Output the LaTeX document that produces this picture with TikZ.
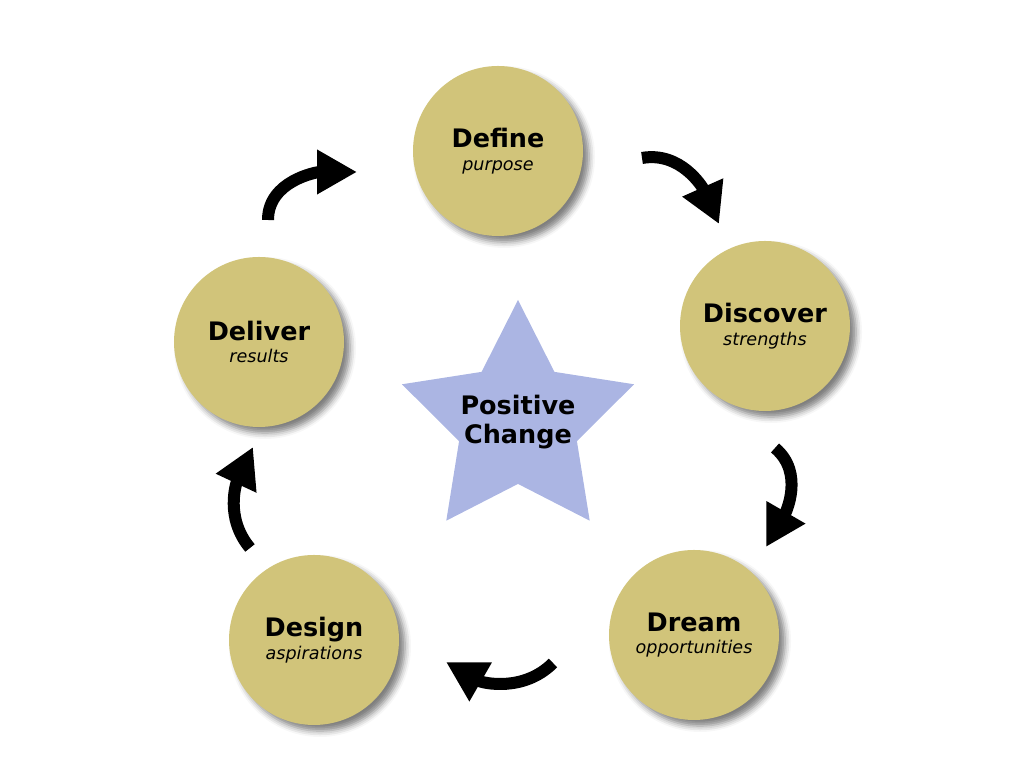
\documentclass[tikz,border=0pt]{standalone}
\usepackage{fontspec}
\setmainfont{DejaVu Sans}
\usetikzlibrary{arrows.meta,shapes.geometric,shadows.blur}
\definecolor{stagegold}{RGB}{209,196,122}
\definecolor{starblue}{RGB}{171,181,227}
\begin{document}
\begin{tikzpicture}[x=0.2mm, y=0.2mm,
	stage/.style={circle, fill=stagegold, minimum size=3.4cm, inner sep=0pt, align=center,
		font=\fontsize{10}{13}\selectfont\itshape,
		blur shadow={shadow xshift=1.2mm, shadow yshift=-1.2mm, shadow blur radius=1.2mm, shadow opacity=50}},
	core/.style={star, star points=5, star point ratio=1.97, minimum size=4.88cm, inner sep=0pt,
		fill=starblue},
	flowarrow/.style={line width=2.4mm, -{Triangle[length=8mm, width=8.4mm]}}]
		\useasboundingbox (0, 0) rectangle (1024, 768);
		% five stages round the star
		\foreach \name/\x/\y/\title/\sub in {define/498/617/Define/purpose,
				discover/765/442/Discover/strengths, dream/694/133/Dream/opportunities,
				design/314/128/Design/aspirations, deliver/259/426/Deliver/results}
			\node[stage] (\name) at (\x, \y) {{\fontsize{14.5}{13}\selectfont\bfseries\upshape \title}\\ \sub};
		\node[core] (change) at (518, 346) {};
		\node[align=center, font=\fontsize{14.5}{16.5}\selectfont\bfseries] (changetext) at (change) {Positive\\ Change};
		% arrow ends
		\foreach \i/\tx/\ty/\hx/\hy in {1/268/548/357/596, 2/642/610/719/544, 3/775/320/766/221,
				4/553/105/446/106, 5/250/220/253/321} {
			\coordinate (t\i) at (\tx, \ty);
			\coordinate (h\i) at (\hx, \hy);
		}
		\draw[flowarrow] (t1) to[out=90, in=180] (h1);
		\draw[flowarrow] (t2) to[out=10, in=114] (h2);
		\draw[flowarrow] (t3) to[out=-40, in=60] (h3);
		\draw[flowarrow] (t4) to[out=-135, in=-30] (h4);
		\draw[flowarrow] (t5) to[out=130, in=-115] (h5);
\end{tikzpicture}
\end{document}
